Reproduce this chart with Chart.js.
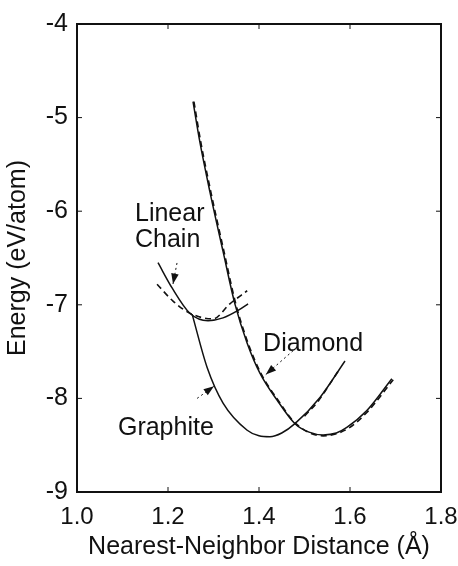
<!DOCTYPE html>
<html>
<head>
<meta charset="utf-8">
<script src="https://cdn.jsdelivr.net/npm/chart.js@4.4.0/dist/chart.umd.min.js"></script>
<style>
  html, body { margin: 0; padding: 0; background: #fff; }
  #wrap { width: 458px; height: 566px; }
</style>
</head>
<body>
<div id="wrap"><canvas id="energyChart" width="458" height="566"></canvas></div>
<script>
// Nearest-neighbour distance (Å) and energy (eV/atom)
const diamondX   = [1.255, 1.270, 1.292, 1.321, 1.347, 1.374, 1.402, 1.440, 1.479, 1.510, 1.541, 1.570, 1.593, 1.637, 1.692];
const diamondE   = [-4.83, -5.26, -5.79, -6.43, -6.99, -7.41, -7.73, -8.02, -8.27, -8.36, -8.39, -8.37, -8.31, -8.13, -7.79];
const diamondFitX = [1.257, 1.272, 1.294, 1.323, 1.349, 1.376, 1.404, 1.442, 1.481, 1.541, 1.593, 1.637, 1.695];
const diamondFitE = [-4.83, -5.26, -5.79, -6.43, -6.99, -7.41, -7.73, -8.02, -8.27, -8.40, -8.33, -8.15, -7.80];

const graphiteX  = [1.253, 1.286, 1.321, 1.374, 1.400, 1.424, 1.450, 1.479, 1.534, 1.589];
const graphiteE  = [-7.10, -7.67, -8.05, -8.34, -8.40, -8.41, -8.37, -8.27, -7.99, -7.60];
const graphiteFitX = [1.500, 1.530, 1.555, 1.578];
const graphiteFitE = [-8.19, -8.03, -7.85, -7.68];

const chainX     = [1.178, 1.209, 1.248, 1.288, 1.321, 1.354, 1.376];
const chainE     = [-6.55, -6.82, -7.09, -7.17, -7.14, -7.06, -6.99];
const chainFitX  = [1.176, 1.211, 1.248, 1.299, 1.336, 1.374];
const chainFitE  = [-6.78, -6.96, -7.09, -7.15, -6.99, -6.85];

const xTicks = [1.0, 1.2, 1.4, 1.6, 1.8];
const yTicks = [-9, -8, -7, -6, -5, -4];

// text labels and arrows, in data coordinates
const curveLabels = [
  { lines: ['Linear', 'Chain'], x: 1.1275, y: -6.106 },
  { lines: ['Diamond'], x: 1.409, y: -7.489 },
  { lines: ['Graphite'], x: 1.090, y: -8.394 }
];
const arrows = [
  { from: [1.2198, -6.553], to: [1.211, -6.777] },
  { from: [1.475, -7.49], to: [1.415, -7.745] },
  { from: [1.264, -8.00], to: [1.301, -7.87] }
];

const FONT = 'Liberation Sans, Arial, Helvetica, sans-serif';
const INK = '#111';

function toPoints(xs, ys) {
  return xs.map((x, i) => ({ x: x, y: ys[i] }));
}

function curve(xs, ys, dashed) {
  return {
    data: toPoints(xs, ys),
    borderColor: INK,
    borderWidth: dashed ? 1.6 : 1.5,
    borderDash: dashed ? [6, 4] : [],
    pointRadius: 0,
    fill: false,
    cubicInterpolationMode: 'monotone'
  };
}

const framePlugin = {
  id: 'frame',
  afterDatasetsDraw(chart) {
    const ctx = chart.ctx;
    const a = chart.chartArea;
    const xs = chart.scales.x, ys = chart.scales.y;
    ctx.save();
    ctx.strokeStyle = INK;
    ctx.lineWidth = 2;
    ctx.strokeRect(a.left, a.top, a.right - a.left, a.bottom - a.top);

    // small inward ticks on all four sides
    ctx.lineWidth = 1;
    xTicks.forEach(v => {
      const px = xs.getPixelForValue(v);
      ctx.beginPath();
      ctx.moveTo(px, a.bottom); ctx.lineTo(px, a.bottom - 5);
      ctx.moveTo(px, a.top); ctx.lineTo(px, a.top + 5);
      ctx.stroke();
    });
    yTicks.forEach(v => {
      const py = ys.getPixelForValue(v);
      ctx.beginPath();
      ctx.moveTo(a.left, py); ctx.lineTo(a.left + 5, py);
      ctx.moveTo(a.right, py); ctx.lineTo(a.right - 5, py);
      ctx.stroke();
    });

    // labels
    ctx.fillStyle = INK;
    ctx.font = '25px ' + FONT;
    ctx.textAlign = 'left';
    ctx.textBaseline = 'alphabetic';
    curveLabels.forEach(l => {
      const px = xs.getPixelForValue(l.x);
      let py = ys.getPixelForValue(l.y);
      l.lines.forEach(t => { ctx.fillText(t, px, py); py += 26; });
    });

    // arrows
    arrows.forEach(ar => {
      const x1 = xs.getPixelForValue(ar.from[0]), y1 = ys.getPixelForValue(ar.from[1]);
      const x2 = xs.getPixelForValue(ar.to[0]), y2 = ys.getPixelForValue(ar.to[1]);
      const ang = Math.atan2(y2 - y1, x2 - x1);
      ctx.lineWidth = 1;
      ctx.setLineDash([2, 3]);
      ctx.beginPath();
      ctx.moveTo(x1, y1); ctx.lineTo(x2, y2);
      ctx.stroke();
      ctx.setLineDash([]);
      ctx.beginPath();
      ctx.moveTo(x2, y2);
      ctx.lineTo(x2 - 11 * Math.cos(ang - 0.35), y2 - 11 * Math.sin(ang - 0.35));
      ctx.lineTo(x2 - 11 * Math.cos(ang + 0.35), y2 - 11 * Math.sin(ang + 0.35));
      ctx.closePath();
      ctx.fill();
    });
    ctx.restore();
  }
};

new Chart(document.getElementById('energyChart').getContext('2d'), {
  type: 'line',
  data: {
    datasets: [
      curve(diamondX, diamondE, false),
      curve(diamondFitX, diamondFitE, true),
      curve(graphiteX, graphiteE, false),
      curve(graphiteFitX, graphiteFitE, true),
      curve(chainX, chainE, false),
      curve(chainFitX, chainFitE, true)
    ]
  },
  options: {
    responsive: false,
    animation: false,
    layout: { padding: { top: 22, right: 17, left: 0, bottom: 0 } },
    plugins: { legend: { display: false }, tooltip: { enabled: false } },
    scales: {
      x: {
        type: 'linear',
        min: 1.0,
        max: 1.8,
        afterBuildTicks: s => { s.ticks = xTicks.map(v => ({ value: v })); },
        afterFit: s => { s.height = 74; s.paddingLeft = 0; s.paddingRight = 0; },
        ticks: {
          color: INK,
          font: { family: FONT, size: 24 },
          padding: 11,
          maxRotation: 0,
          callback: v => v.toFixed(1)
        },
        grid: { display: false, drawTicks: false },
        border: { display: false },
        title: {
          display: true,
          text: 'Nearest-Neighbor Distance (Å)',
          color: INK,
          font: { family: FONT, size: 25 },
          padding: { top: 0, bottom: 4 }
        }
      },
      y: {
        min: -9,
        max: -4,
        afterBuildTicks: s => { s.ticks = yTicks.map(v => ({ value: v })); },
        afterFit: s => { s.width = 77; },
        ticks: {
          color: INK,
          font: { family: FONT, size: 25 },
          padding: 9,
          callback: v => String(v)
        },
        grid: { display: false, drawTicks: false },
        border: { display: false },
        title: {
          display: true,
          text: 'Energy (eV/atom)',
          color: INK,
          font: { family: FONT, size: 25 },
          padding: { top: 3, bottom: 0 }
        }
      }
    }
  },
  plugins: [framePlugin]
});
</script>
</body>
</html>
